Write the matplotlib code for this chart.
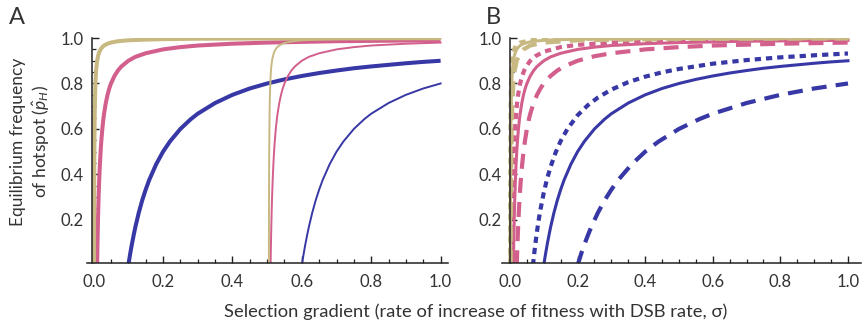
import matplotlib
matplotlib.use("Agg")
import matplotlib.pyplot as plt
from matplotlib.ticker import MultipleLocator, FixedLocator

plt.rcParams['font.family'] = ['Lato', 'DejaVu Sans']
plt.rcParams['mathtext.fontset'] = 'custom'
plt.rcParams['mathtext.it'] = 'Lato:italic'
plt.rcParams['mathtext.rm'] = 'Lato'

TAN = '#C8B982'
PINK = '#D25F8C'
BLUE = '#3737A5'
INK = '#222222'

# ---------------- Panel A data ----------------
a_tan_x = [0.001, 0.0015, 0.002, 0.003, 0.005, 0.007, 0.01, 0.013, 0.016, 0.02, 0.025, 0.03,
           0.04, 0.05, 0.07, 0.1, 0.15, 0.2, 0.3, 0.5, 1.0]
a_tan_y = [0.0, 0.333, 0.5, 0.667, 0.8, 0.857, 0.9, 0.923, 0.9375, 0.95, 0.96, 0.967,
           0.975, 0.98, 0.986, 0.99, 0.993, 0.995, 0.997, 0.998, 0.999]

a_pink_x = [0.01, 0.0102, 0.0105, 0.011, 0.0115, 0.012, 0.013, 0.014, 0.015, 0.016, 0.018,
            0.02, 0.022, 0.025, 0.028, 0.03, 0.035, 0.04, 0.045, 0.05, 0.06, 0.07, 0.08, 0.1,
            0.12, 0.15, 0.2, 0.25, 0.3, 0.4, 0.5, 0.6, 0.7, 0.8, 0.9, 1.0]
a_pink_y = [0.0, 0.02, 0.048, 0.091, 0.13, 0.167, 0.231, 0.286, 0.333, 0.375, 0.444,
            0.5, 0.545, 0.6, 0.643, 0.667, 0.714, 0.75, 0.778, 0.8, 0.833, 0.857, 0.875, 0.9,
            0.917, 0.933, 0.95, 0.96, 0.967, 0.975, 0.98, 0.983, 0.986, 0.9875, 0.989, 0.99]

a_blue_x = [0.1, 0.102, 0.105, 0.11, 0.115, 0.12, 0.13, 0.14, 0.15, 0.16, 0.18, 0.2, 0.22,
            0.25, 0.28, 0.3, 0.35, 0.4, 0.45, 0.5, 0.55, 0.6, 0.65, 0.7, 0.75, 0.8, 0.85, 0.9,
            0.95, 1.0]
a_blue_y = [0.0, 0.02, 0.048, 0.091, 0.13, 0.167, 0.231, 0.286, 0.333, 0.375, 0.444, 0.5,
            0.545, 0.6, 0.643, 0.667, 0.714, 0.75, 0.778, 0.8, 0.818, 0.833, 0.846, 0.857,
            0.867, 0.875, 0.882, 0.889, 0.895, 0.9]

a_tan_thin_x = [0.505, 0.5055, 0.506, 0.507, 0.508, 0.51, 0.512, 0.515, 0.52, 0.525, 0.53,
                0.54, 0.55, 0.57, 0.6, 0.65, 0.7, 0.8, 1.0]
a_tan_thin_y = [0.0, 0.333, 0.5, 0.667, 0.75, 0.833, 0.875, 0.909, 0.9375, 0.952, 0.9615,
                0.972, 0.978, 0.985, 0.99, 0.993, 0.995, 0.9966, 0.998]

a_pink_thin_x = [0.51, 0.5102, 0.5105, 0.511, 0.5115, 0.512, 0.513, 0.514, 0.515, 0.516,
                 0.518, 0.52, 0.522, 0.525, 0.528, 0.53, 0.535, 0.54, 0.545, 0.55, 0.56,
                 0.57, 0.58, 0.6, 0.62, 0.65, 0.7, 0.75, 0.8, 0.9, 1.0]
a_pink_thin_y = [0.0, 0.02, 0.048, 0.091, 0.13, 0.167, 0.231, 0.286, 0.333, 0.375,
                 0.444, 0.5, 0.545, 0.6, 0.643, 0.667, 0.714, 0.75, 0.778, 0.8, 0.833,
                 0.857, 0.875, 0.9, 0.917, 0.933, 0.95, 0.96, 0.967, 0.975, 0.98]

a_blue_thin_x = [0.6, 0.602, 0.605, 0.61, 0.615, 0.62, 0.63, 0.64, 0.65, 0.66, 0.68, 0.7,
                 0.72, 0.75, 0.78, 0.8, 0.85, 0.9, 0.95, 1.0]
a_blue_thin_y = [0.0, 0.02, 0.048, 0.091, 0.13, 0.167, 0.231, 0.286, 0.333, 0.375, 0.444,
                 0.5, 0.545, 0.6, 0.643, 0.667, 0.714, 0.75, 0.778, 0.8]

# ---------------- Panel B data ----------------
b_tan_solid_x = a_tan_x
b_tan_solid_y = a_tan_y
b_tan_dot_x = [0.0006, 0.0008, 0.001, 0.0015, 0.002, 0.003, 0.004, 0.006, 0.008, 0.012,
               0.018, 0.03, 0.06, 0.1, 0.2, 0.5, 1.0]
b_tan_dot_y = [0.0, 0.25, 0.4, 0.6, 0.7, 0.8, 0.85, 0.9, 0.925, 0.95, 0.967, 0.98, 0.99,
               0.994, 0.997, 0.9988, 0.9994]
b_tan_dash_x = [0.002, 0.0025, 0.003, 0.004, 0.005, 0.007, 0.01, 0.014, 0.02, 0.03, 0.04,
                0.06, 0.1, 0.2, 0.5, 1.0]
b_tan_dash_y = [0.0, 0.2, 0.333, 0.5, 0.6, 0.714, 0.8, 0.857, 0.9, 0.933, 0.95, 0.967,
                0.98, 0.99, 0.996, 0.998]

b_pink_solid_x = a_pink_x
b_pink_solid_y = a_pink_y
b_pink_dot_x = [0.006, 0.0063, 0.0066, 0.0072, 0.0078, 0.0084, 0.009, 0.0096, 0.0108, 0.012,
                0.0132, 0.015, 0.018, 0.021, 0.024, 0.03, 0.036, 0.042, 0.048, 0.06, 0.075,
                0.1, 0.15, 0.2, 0.3, 0.5, 0.7, 1.0]
b_pink_dot_y = [0.0, 0.048, 0.091, 0.167, 0.231, 0.286, 0.333, 0.375, 0.444, 0.5,
                0.545, 0.6, 0.667, 0.714, 0.75, 0.8, 0.833, 0.857, 0.875, 0.9, 0.92,
                0.94, 0.96, 0.97, 0.98, 0.988, 0.991, 0.994]
b_pink_dash_x = [0.02, 0.021, 0.022, 0.024, 0.026, 0.028, 0.03, 0.032, 0.036, 0.04, 0.044,
                 0.05, 0.056, 0.06, 0.07, 0.08, 0.09, 0.1, 0.12, 0.14, 0.16, 0.2, 0.25, 0.3,
                 0.4, 0.5, 0.6, 0.8, 1.0]
b_pink_dash_y = [0.0, 0.048, 0.091, 0.167, 0.231, 0.286, 0.333, 0.375, 0.444, 0.5, 0.545,
                 0.6, 0.643, 0.667, 0.714, 0.75, 0.778, 0.8, 0.833, 0.857, 0.875, 0.9, 0.92,
                 0.933, 0.95, 0.96, 0.967, 0.975, 0.98]

b_blue_solid_x = a_blue_x
b_blue_solid_y = a_blue_y
b_blue_dot_x = [0.068, 0.07, 0.072, 0.075, 0.08, 0.085, 0.09, 0.1, 0.11, 0.12, 0.135, 0.15,
                0.17, 0.2, 0.23, 0.26, 0.3, 0.35, 0.4, 0.45, 0.5, 0.6, 0.7, 0.8, 0.9, 1.0]
b_blue_dot_y = [0.0, 0.029, 0.056, 0.093, 0.15, 0.2, 0.244, 0.32, 0.382, 0.433, 0.496, 0.547,
                0.6, 0.66, 0.704, 0.738, 0.773, 0.806, 0.83, 0.849, 0.864, 0.887, 0.903,
                0.915, 0.924, 0.932]
b_blue_dash_x = [0.2, 0.205, 0.21, 0.22, 0.23, 0.24, 0.26, 0.28, 0.3, 0.32, 0.36, 0.4, 0.44,
                 0.5, 0.56, 0.6, 0.7, 0.8, 0.9, 1.0]
b_blue_dash_y = [0.0, 0.024, 0.048, 0.091, 0.13, 0.167, 0.231, 0.286, 0.333, 0.375, 0.444,
                 0.5, 0.545, 0.6, 0.643, 0.667, 0.714, 0.75, 0.778, 0.8]

x_ticks = [0.0, 0.2, 0.4, 0.6, 0.8, 1.0]
x_tick_labels = ['0.0', '0.2', '0.4', '0.6', '0.8', '1.0']
y_ticks = [0.2, 0.4, 0.6, 0.8, 1.0]
y_tick_labels = ['0.2', '0.4', '0.6', '0.8', '1.0']

fig = plt.figure(figsize=(8.68, 3.27), dpi=100)
axA = fig.add_axes([0.0999, 0.1957, 0.4157, 0.688])
axB = fig.add_axes([0.5782, 0.1957, 0.4143, 0.688])


def style(ax, xlim, spine_x):
    ax.set_xlim(*xlim)
    ax.set_ylim(0.01, 1.0)
    for s in ['top', 'right']:
        ax.spines[s].set_visible(False)
    ax.spines['left'].set_position(('data', spine_x))
    ax.spines['left'].set_bounds(0.01, 1.0)
    for s in ['left', 'bottom']:
        ax.spines[s].set_linewidth(1.1)
        ax.spines[s].set_color(INK)
    ax.xaxis.set_major_locator(FixedLocator(x_ticks))
    ax.set_xticklabels(x_tick_labels)
    ax.yaxis.set_major_locator(FixedLocator(y_ticks))
    ax.set_yticklabels(y_tick_labels)
    ax.xaxis.set_minor_locator(MultipleLocator(0.05))
    ax.yaxis.set_minor_locator(MultipleLocator(0.05))
    ax.tick_params(which='major', direction='in', length=5, width=1.0, color=INK,
                   labelsize=12, labelcolor='#333333')
    ax.tick_params(axis='x', which='major', pad=8)
    ax.tick_params(axis='y', which='major', pad=6)
    ax.tick_params(which='minor', direction='in', length=3, width=0.9, color=INK)


# Panel A
axA.plot(a_blue_x, a_blue_y, color=BLUE, lw=2.9, solid_capstyle='butt')
axA.plot(a_pink_x, a_pink_y, color=PINK, lw=2.9, solid_capstyle='butt')
axA.plot(a_tan_x, a_tan_y, color=TAN, lw=2.9, solid_capstyle='butt')
axA.plot(a_blue_thin_x, a_blue_thin_y, color=BLUE, lw=1.4)
axA.plot(a_pink_thin_x, a_pink_thin_y, color=PINK, lw=1.4)
axA.plot(a_tan_thin_x, a_tan_thin_y, color=TAN, lw=1.4)
style(axA, (-0.02, 1.02), -0.005)

# Panel B
dot = (0, (1.5, 1.2))
dash = (0, (3.6, 2.2))
axB.plot(b_blue_solid_x, b_blue_solid_y, color=BLUE, lw=2.2)
axB.plot(b_blue_dot_x, b_blue_dot_y, color=BLUE, lw=3.0, linestyle=dot)
axB.plot(b_blue_dash_x, b_blue_dash_y, color=BLUE, lw=3.0, linestyle=dash)
axB.plot(b_pink_solid_x, b_pink_solid_y, color=PINK, lw=2.2)
axB.plot(b_pink_dot_x, b_pink_dot_y, color=PINK, lw=3.0, linestyle=dot)
axB.plot(b_pink_dash_x, b_pink_dash_y, color=PINK, lw=3.0, linestyle=dash)
axB.plot(b_tan_solid_x, b_tan_solid_y, color=TAN, lw=2.2)
axB.plot(b_tan_dot_x, b_tan_dot_y, color=TAN, lw=3.0, linestyle=dot)
axB.plot(b_tan_dash_x, b_tan_dash_y, color=TAN, lw=3.0, linestyle=dash)
style(axB, (-0.024, 1.04), 0.0)

fig.text(0.019, 0.945, 'A', fontsize=17, color='#333333', ha='center', va='center')
fig.text(0.568, 0.945, 'B', fontsize=17, color='#333333', ha='center', va='center')

fig.text(0.035, 0.567, 'Equilibrium frequency\nof hotspot ($\\hat{p}_H$)', rotation=90,
         ha='center', va='center', fontsize=12.5, color='#333333', linespacing=1.25)
fig.text(0.548, 0.048,
         'Selection gradient (rate of increase of fitness with DSB rate, \u03c3)',
         ha='center', va='center', fontsize=13.2, color='#333333')

fig.savefig('out.png', dpi=100)
